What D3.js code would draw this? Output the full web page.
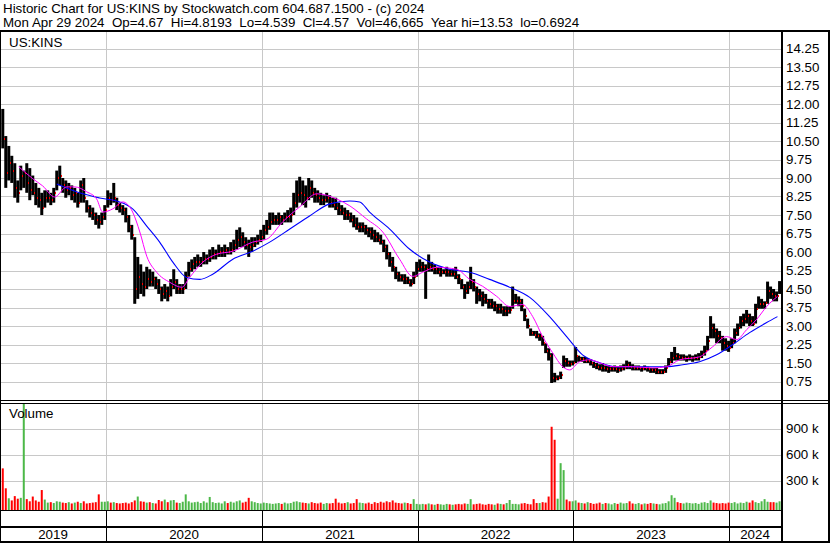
<!DOCTYPE html>
<html><head><meta charset="utf-8">
<script src="https://cdn.jsdelivr.net/npm/d3@7"></script>
<style>
body{margin:0;background:#fff}
svg{display:block}
text{font-family:"Liberation Sans",Arial,sans-serif;font-size:13.33px;fill:#000}
</style></head>
<body><svg id="c" width="830" height="543"></svg>
<script>
// ---------- DATA ----------
const title1 = "Historic Chart for US:KINS by Stockwatch.com 604.687.1500 - (c) 2024";
const title2 = "Mon Apr 29 2024  Op=4.67  Hi=4.8193  Lo=4.539  Cl=4.57  Vol=46,665  Year hi=13.53  lo=0.6924";
const symbol = "US:KINS";
const firstDate = "2019-05-04";
const lastDate = "2024-04-29";
const axisStart = "2019-05-01";
const axisEnd = "2024-04-30";

const high = [
11.8,10.7,10.3,9.9,9.6,8.9,9.5,9.3,9.6,9.4,
9.1,8.8,8.6,8.4,8.5,8.5,8.4,8.6,9.3,9.5,
9.0,8.9,8.8,8.7,8.6,8.4,8.9,9.0,8.1,7.9,
7.8,7.6,7.5,7.6,7.9,8.5,8.4,8.8,8.2,8.0,
7.9,7.8,7.5,7.1,6.6,5.8,5.5,5.2,5.4,5.3,
5.2,5.0,4.9,4.6,4.7,4.6,4.9,5.3,4.9,4.7,
4.7,5.2,5.6,5.7,5.8,5.9,5.8,6.0,5.9,6.1,
6.2,6.1,6.3,6.2,6.3,6.2,6.4,6.5,6.9,7.0,
6.8,6.6,6.5,6.6,6.6,6.7,6.9,7.1,7.3,7.6,
7.6,7.5,7.6,7.5,7.6,7.7,7.8,8.4,8.9,9.05,
8.9,8.7,9.0,8.9,8.6,8.5,8.4,8.3,8.4,8.3,
8.2,8.2,8.0,7.9,7.8,7.7,7.6,7.5,7.4,7.2,
7.2,7.1,7.0,7.0,6.9,6.8,6.7,6.5,6.3,6.0,
5.8,5.4,5.2,5.1,5.1,5.0,4.9,5.2,5.6,5.7,
5.6,5.5,5.9,5.6,5.5,5.4,5.4,5.3,5.4,5.3,
5.3,5.4,5.1,4.9,4.7,4.8,5.4,4.9,4.6,4.5,
4.4,4.3,4.1,4.1,4.0,3.9,3.9,3.8,3.8,3.8,
4.6,4.3,4.2,4.1,3.7,3.3,2.9,2.8,2.8,2.7,
2.6,2.3,2.1,1.9,1.1,1.0,1.15,1.8,1.7,1.6,
1.6,2.15,1.8,1.75,1.75,1.7,1.65,1.55,1.5,1.45,
1.5,1.4,1.4,1.35,1.4,1.35,1.4,1.45,1.6,1.55,
1.45,1.4,1.4,1.35,1.4,1.35,1.3,1.3,1.3,1.25,
1.25,1.4,1.7,1.95,2.15,1.9,1.85,1.85,1.8,1.85,
1.8,1.85,1.9,2.0,2.2,2.6,3.4,3.1,2.9,2.8,
2.6,2.5,2.4,2.5,2.9,3.1,3.4,3.5,3.65,3.5,
3.4,3.9,4.2,4.1,4.0,4.8,4.6,4.5,4.4,4.82
];
const low = [
10.2,8.6,8.9,8.8,8.2,8.0,8.5,8.6,8.4,8.1,
8.3,7.9,7.8,7.5,7.8,8.0,7.9,8.0,8.5,8.7,
8.4,8.2,8.3,8.1,8.0,7.8,8.0,8.0,7.6,7.4,
7.3,7.1,6.95,7.1,7.3,7.8,7.9,8.0,7.7,7.6,
7.5,7.2,6.8,6.5,3.9,4.1,4.3,4.2,4.5,4.6,
4.6,4.5,4.3,4.0,4.1,4.0,4.2,4.5,4.3,4.3,
4.3,4.5,5.0,5.2,5.3,5.4,5.4,5.5,5.5,5.6,
5.7,5.7,5.8,5.8,5.8,5.9,5.9,6.0,6.1,6.2,
6.2,6.1,5.8,6.0,6.2,6.3,6.4,6.5,6.7,6.9,
7.1,7.1,7.1,7.1,7.2,7.2,7.2,7.5,7.8,8.0,
7.9,7.8,8.1,8.2,8.0,8.0,7.9,7.9,8.0,7.8,
7.8,7.7,7.5,7.5,7.3,7.3,7.2,7.0,6.9,6.8,
6.8,6.7,6.6,6.5,6.4,6.4,6.3,6.0,5.7,5.4,
5.2,4.9,4.8,4.8,4.7,4.7,4.6,4.7,5.0,5.2,
5.2,4.1,5.2,5.2,5.1,5.1,5.0,5.1,5.0,5.0,
5.0,4.9,4.7,4.5,4.1,4.3,4.5,4.4,3.9,4.0,
3.8,3.9,3.7,3.7,3.6,3.5,3.5,3.4,3.4,3.5,
3.7,3.9,3.8,3.6,3.2,2.9,2.6,2.6,2.5,2.4,
2.2,1.9,1.6,0.69,0.72,0.8,0.85,1.3,1.35,1.35,
1.4,1.5,1.55,1.55,1.5,1.5,1.4,1.3,1.25,1.2,
1.15,1.15,1.1,1.15,1.15,1.1,1.15,1.2,1.25,1.25,
1.2,1.2,1.2,1.15,1.2,1.15,1.1,1.1,1.05,1.05,
1.05,1.1,1.35,1.5,1.6,1.6,1.6,1.6,1.55,1.6,
1.55,1.6,1.6,1.7,1.8,2.0,2.5,2.5,2.3,2.3,
2.0,2.0,1.95,2.1,2.3,2.6,2.9,3.0,3.1,3.0,
3.0,3.1,3.7,3.7,3.7,3.9,4.1,4.0,4.0,4.3
];
const close = [
10.6,9.2,9.6,9.3,8.6,8.4,9.1,9.2,8.8,8.5,
8.4,8.2,8.1,7.8,8.2,8.2,8.1,8.4,9.0,9.1,
8.7,8.5,8.6,8.3,8.4,8.0,8.7,8.2,7.8,7.6,
7.5,7.3,7.2,7.4,7.7,8.2,8.1,8.2,7.9,7.8,
7.7,7.4,7.0,6.7,4.5,5.0,4.7,4.6,4.9,4.8,
4.9,4.7,4.5,4.3,4.4,4.2,4.6,4.8,4.5,4.5,
4.5,5.0,5.3,5.5,5.6,5.6,5.6,5.7,5.7,5.8,
5.9,5.9,6.0,6.0,6.1,6.0,6.1,6.3,6.5,6.6,
6.4,6.3,6.2,6.3,6.4,6.5,6.6,6.9,7.0,7.2,
7.3,7.3,7.4,7.3,7.4,7.4,7.5,8.0,8.3,8.4,
8.3,8.2,8.6,8.4,8.3,8.2,8.1,8.1,8.2,8.0,
7.9,7.8,7.7,7.6,7.5,7.5,7.3,7.1,7.0,7.0,
7.0,6.9,6.8,6.7,6.6,6.5,6.4,6.2,5.9,5.6,
5.4,5.1,5.0,4.9,4.9,4.8,4.7,5.0,5.3,5.4,
5.4,5.3,5.4,5.3,5.3,5.2,5.2,5.2,5.2,5.1,
5.1,5.0,4.9,4.6,4.4,4.6,4.8,4.6,4.3,4.2,
4.1,4.0,3.9,3.8,3.8,3.7,3.7,3.6,3.6,3.65,
4.0,4.0,4.0,3.8,3.4,3.0,2.7,2.65,2.6,2.6,
2.3,2.0,1.8,0.9,0.85,0.9,1.0,1.6,1.5,1.45,
1.5,1.8,1.65,1.65,1.6,1.6,1.5,1.4,1.35,1.3,
1.3,1.25,1.25,1.25,1.25,1.2,1.25,1.3,1.4,1.35,
1.3,1.3,1.3,1.25,1.3,1.25,1.2,1.2,1.15,1.15,
1.15,1.3,1.55,1.7,1.8,1.75,1.7,1.7,1.7,1.7,
1.7,1.7,1.75,1.85,2.0,2.4,2.9,2.8,2.6,2.5,
2.3,2.2,2.1,2.3,2.7,2.9,3.2,3.3,3.4,3.2,
3.1,3.7,3.9,3.9,3.95,4.4,4.3,4.2,4.2,4.57
];
// volume in thousands of shares
const volumeK = [
440,210,95,70,120,90,100,1200,85,60,
115,70,55,190,80,45,50,40,60,55,
45,40,50,35,45,55,40,60,35,40,
45,50,140,55,55,60,45,50,40,35,
40,45,35,50,70,115,60,55,45,50,
40,35,75,60,80,50,70,75,45,40,
55,140,60,45,50,55,40,60,45,110,
50,40,45,35,60,40,55,45,60,70,
45,55,100,60,50,40,35,45,40,35,
30,35,40,30,45,35,40,55,60,50,
45,40,35,50,40,35,45,30,40,35,
40,90,45,35,40,50,35,40,85,45,
40,35,45,30,50,40,55,45,60,50,
70,45,40,35,45,40,30,85,30,25,
30,25,35,25,20,30,25,20,30,25,
20,25,30,25,35,30,85,25,30,35,
25,20,30,25,20,35,30,25,40,75,
30,30,25,35,40,30,25,85,40,40,
50,45,115,920,770,90,500,420,80,60,
60,70,45,40,35,50,40,30,35,45,
30,40,35,25,40,30,45,35,40,60,
35,30,40,25,35,30,40,35,30,25,
35,40,60,130,100,50,40,35,45,40,
35,40,30,45,50,40,70,45,40,35,
40,35,45,40,50,35,45,40,55,45,
70,50,40,60,85,55,50,50,45,60
];
// short moving average (magenta): bar index, price
const fastIdx = [5.3,10,13.3,17.3,21.3,24,28,31.3,33.3,36.7,40,43.3,45.7,48,51.3,55.7,59.7,62.3,66.7,71.3,76.7,83.3,88,93.3,99,104.7,111.3,115.7,121.3,126.7,132.3,136.7,140,144.7,151.3,155.7,160,164.7,169,173.3,176.7,180,183.3,186.7,189,192.3,195.7,199,203.3,210,216.7,221.3,225.7,232.3,236.7,241.3,244.7,248,251.3,254.7,258.3];
const fastVal = [9.46,8.97,8.68,8.23,8.64,8.64,8.44,8.15,7.62,7.75,8.03,7.62,6.81,5.83,5.18,4.77,4.57,4.97,5.59,5.91,6.03,6.4,6.52,7.22,7.83,8.36,8.15,7.87,7.34,6.81,5.71,5.01,5.18,5.38,5.30,4.89,4.61,4.20,3.79,3.87,3.38,2.57,1.92,1.35,1.22,1.55,1.63,1.51,1.35,1.35,1.30,1.35,1.63,1.75,2.16,2.57,2.45,2.85,3.26,3.79,4.20];
// long moving average (blue)
const slowIdx = [18,26.7,32.3,39,43.3,48,52.3,56.7,61.3,65.7,70,76.7,83.3,89,95.7,102.3,109,115.7,119,122.3,129,135.7,142.3,149,155.7,162.3,169,175.7,182.3,188,193.3,199,204.7,210,215.7,221.3,226.7,232.3,238,243.3,249,254.7,258.3];
const slowVal = [8.76,8.36,8.19,8.03,7.75,7.05,6.40,5.59,4.97,4.89,5.10,5.71,6.03,6.40,6.93,7.46,7.95,8.07,8.03,7.62,6.93,6.11,5.59,5.30,5.18,4.89,4.57,4.16,3.38,2.57,1.83,1.51,1.35,1.35,1.35,1.35,1.43,1.55,1.83,2.24,2.73,3.14,3.38];

const priceTicks = [0.75,1.5,2.25,3,3.75,4.5,5.25,6,6.75,7.5,8.25,9,9.75,10.5,11.25,12,12.75,13.5,14.25];
const volumeTicks = [300,600,900];
const yearLabels = ["2019","2020","2021","2022","2023","2024"];
const yearStarts = ["2020-01-01","2021-01-01","2022-01-01","2023-01-01","2024-01-01"];

// ---------- LAYOUT ----------
const W = 830, H = 543;
const plotR = 781;
const priceTop = 32, priceBot = 400;
const volTop = 404, volBot = 510;
const parse = d3.utcParse("%Y-%m-%d");

const svg = d3.select("#c");
svg.append("rect").attr("width", W).attr("height", H).attr("fill", "#fff");

const xTime = d3.scaleUtc().domain([parse(axisStart), parse(axisEnd)]).range([1.5, 780]);
const xb = d3.scaleLinear().domain([0, high.length - 1]).range([xTime(parse(firstDate)), xTime(parse(lastDate))]);
const yp = d3.scaleLinear().domain([0, 15]).range([400, 30]);
const yv = d3.scaleLinear().domain([0, 1200]).range([506.5, 402.5]);
const sepX = yearStarts.map(d => Math.round(xTime(parse(d))));
const crisp = v => Math.round(v) + 0.5;

const defs = svg.append("defs");
defs.append("clipPath").attr("id", "cp").append("rect")
  .attr("x", 0).attr("y", priceTop).attr("width", plotR).attr("height", priceBot - priceTop);
defs.append("clipPath").attr("id", "cv").append("rect")
  .attr("x", 0).attr("y", volTop).attr("width", plotR).attr("height", volBot - volTop);

const grid = "#c8c8c8";

// ----- price panel -----
const gp = svg.append("g").attr("clip-path", "url(#cp)");
gp.selectAll("line.h").data(priceTicks).join("line")
  .attr("x1", 0).attr("x2", plotR)
  .attr("y1", d => crisp(yp(d))).attr("y2", d => crisp(yp(d)))
  .attr("stroke", grid).attr("stroke-width", 1);
gp.selectAll("line.v").data(sepX).join("line")
  .attr("x1", d => d + 0.5).attr("x2", d => d + 0.5)
  .attr("y1", priceTop).attr("y2", priceBot)
  .attr("stroke", grid).attr("stroke-width", 1);

const bars = d3.range(high.length);
gp.append("g").selectAll("rect").data(bars).join("rect")
  .attr("x", i => xb(i) - 1.5).attr("width", 3)
  .attr("y", i => yp(high[i])).attr("height", i => Math.max(1, yp(low[i]) - yp(high[i])))
  .attr("fill", "#000");
gp.append("g").selectAll("rect").data(bars).join("rect")
  .attr("x", i => Math.round(xb(i)) + 1).attr("width", 1)
  .attr("y", i => Math.round(yp(close[i])) - 1).attr("height", 2)
  .attr("fill", "#ff0000");

const line = (idx, val) => d3.line()
  .x((d, k) => xb(idx[k])).y(d => yp(d)).curve(d3.curveMonotoneX)(val);
gp.append("path").attr("d", line(slowIdx, slowVal))
  .attr("fill", "none").attr("stroke", "#0000ff").attr("stroke-width", 1.1);
gp.append("path").attr("d", line(fastIdx, fastVal))
  .attr("fill", "none").attr("stroke", "#ff00ff").attr("stroke-width", 1);

svg.append("text").attr("x", 9).attr("y", 46.5).text(symbol);

svg.selectAll("text.pl").data(priceTicks).join("text")
  .attr("class", "pl").attr("x", 786).attr("y", d => yp(d) + 4.8)
  .text(d => d3.format(".2f")(d));

// ----- volume panel -----
const gv = svg.append("g").attr("clip-path", "url(#cv)");
gv.selectAll("line.h").data(volumeTicks).join("line")
  .attr("x1", 0).attr("x2", plotR)
  .attr("y1", d => crisp(yv(d))).attr("y2", d => crisp(yv(d)))
  .attr("stroke", grid);
gv.selectAll("line.v").data(sepX).join("line")
  .attr("x1", d => d + 0.5).attr("x2", d => d + 0.5)
  .attr("y1", volTop).attr("y2", volBot)
  .attr("stroke", grid);
gv.append("g").selectAll("rect").data(bars).join("rect")
  .attr("x", i => xb(i) - 1).attr("width", 2)
  .attr("y", i => yv(volumeK[i])).attr("height", i => volBot - yv(volumeK[i]))
  .attr("fill", i => (i > 0 && close[i] >= close[i - 1]) ? "#4cb848" : "#ff0000");
svg.append("text").attr("x", 9).attr("y", 417.5).text("Volume");
svg.selectAll("text.vl").data(volumeTicks).join("text")
  .attr("class", "vl").attr("x", 786).attr("y", d => yv(d) + 4.8)
  .text(d => d + " k");

// ----- date axis -----
const bounds = [0, ...sepX, plotR];
svg.selectAll("text.yr").data(yearLabels).join("text")
  .attr("class", "yr").attr("text-anchor", "middle")
  .attr("x", (d, k) => (bounds[k] + bounds[k + 1]) / 2).attr("y", 539)
  .text(d => d);
svg.selectAll("line.ys").data(sepX).join("line")
  .attr("x1", d => d + 0.5).attr("x2", d => d + 0.5)
  .attr("y1", 511).attr("y2", 541).attr("stroke", "#000");

// ----- frame -----
const blk = (x, y, w, h) => svg.append("rect").attr("x", x).attr("y", y).attr("width", w).attr("height", h).attr("fill", "#000");
blk(0, 30, W, 2);
blk(0, 400, W, 1);
blk(0, 403, W, 1);
blk(0, 510, plotR, 1);
blk(0, 526, plotR, 2);
blk(0, 541, W, 2);
blk(781, 30, 2, H - 30);
blk(828, 30, 2, H - 30);
blk(0, 30, 1, H - 30);

// ----- header -----
svg.append("text").attr("x", 3).attr("y", 12.5).text(title1);
svg.append("text").attr("x", 3).attr("y", 27).attr("xml:space", "preserve").style("white-space", "pre").text(title2);
</script>
</body></html>
